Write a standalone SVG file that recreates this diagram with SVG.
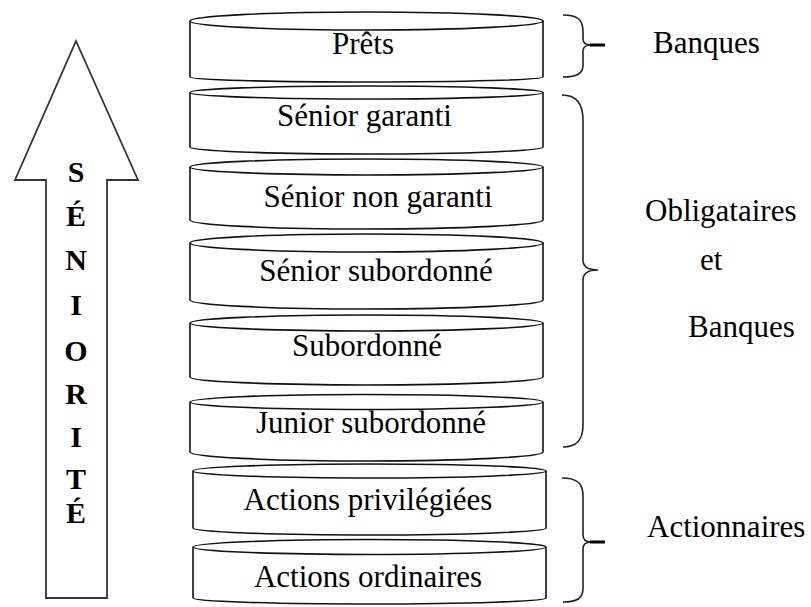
<svg xmlns="http://www.w3.org/2000/svg" width="811" height="607" viewBox="0 0 811 607">
<style>
.disk{fill:#fff;stroke:#111;stroke-width:1.6}
.lbl{font-family:"Liberation Serif","Times New Roman",serif;font-size:31px;fill:#000}
.c{text-anchor:middle}
.arrow{fill:#fff;stroke:#333;stroke-width:1.8}
.let{font-family:"Liberation Serif","Times New Roman",serif;font-size:30px;font-weight:bold;fill:#000;text-anchor:middle}
.brace{fill:none;stroke:#222;stroke-width:1.6}
.tip{stroke:#000;stroke-width:3}
</style>
<rect width="811" height="607" fill="#fff"/>
<g id="arrow">
<polygon class="arrow" points="76,41 138,180 107,180 107,598 46,598 46,180 15,180"/>
<text class="let" x="76" y="182">S</text>
<text class="let" x="76" y="226">É</text>
<text class="let" x="76" y="270">N</text>
<text class="let" x="76" y="315">I</text>
<text class="let" x="76" y="361">O</text>
<text class="let" x="76" y="404">R</text>
<text class="let" x="76" y="447">I</text>
<text class="let" x="76" y="489">T</text>
<text class="let" x="76" y="523">É</text>
</g>
<g id="disk-prets">
<path class="disk" d="M190,21 L190,77 A176.5,5 0 0 0 543,77 L543,21"/>
<ellipse class="disk" cx="366.5" cy="21" rx="176.5" ry="9"/>
<text class="lbl c" x="363" y="54">Prêts</text>
</g>
<g id="disk-senior-garanti">
<path class="disk" d="M190,92.5 L190,147 A176.5,7 0 0 0 543,147 L543,92.5"/>
<ellipse class="disk" cx="366.5" cy="92.5" rx="176.5" ry="6.5"/>
<text class="lbl c" x="364.5" y="126">Sénior garanti</text>
</g>
<g id="disk-senior-non-garanti">
<path class="disk" d="M190,167 L190,220 A176.5,9 0 0 0 543,220 L543,167"/>
<ellipse class="disk" cx="366.5" cy="167" rx="176.5" ry="8"/>
<text class="lbl c" x="378" y="207">Sénior non garanti</text>
</g>
<g id="disk-senior-subordonne">
<path class="disk" d="M190,243 L190,300 A176.5,9 0 0 0 543,300 L543,243"/>
<ellipse class="disk" cx="366.5" cy="243" rx="176.5" ry="9"/>
<text class="lbl c" x="376" y="281">Sénior subordonné</text>
</g>
<g id="disk-subordonne">
<path class="disk" d="M190,323 L190,377 A176.5,8 0 0 0 543,377 L543,323"/>
<ellipse class="disk" cx="366.5" cy="323" rx="176.5" ry="8"/>
<text class="lbl c" x="367" y="356">Subordonné</text>
</g>
<g id="disk-junior-subordonne">
<path class="disk" d="M190,402 L190,452 A176.5,9 0 0 0 543,452 L543,402"/>
<ellipse class="disk" cx="366.5" cy="402" rx="176.5" ry="7.5"/>
<text class="lbl c" x="371" y="433">Junior subordonné</text>
</g>
<g id="disk-actions-privilegiees">
<path class="disk" d="M193,471 L193,528 A176.5,7 0 0 0 546,528 L546,471"/>
<ellipse class="disk" cx="369.5" cy="471" rx="176.5" ry="7"/>
<text class="lbl c" x="368" y="510">Actions privilégiées</text>
</g>
<g id="disk-actions-ordinaires">
<path class="disk" d="M193,547 L193,598 A176.5,6 0 0 0 546,598 L546,547"/>
<ellipse class="disk" cx="369.5" cy="547" rx="176.5" ry="7.5"/>
<text class="lbl c" x="368" y="587">Actions ordinaires</text>
</g>
<g id="connectors">
<path class="brace" d="M563,15 C578,15 583,20 583,32 L583,39 Q583,45 591,45 Q583,45 583,51 L583,65 C583,73 578,77 563,77"/>
<line class="tip" x1="590" y1="45" x2="605" y2="45"/>
<path class="brace" d="M562,95 C577,95 583,105 583,120 L583,260 Q583,270 598,270 Q583,270 583,280 L583,425 C583,440 577,447 563,447"/>
<path class="brace" d="M562,478 C578,478 583,484 583,496 L583,535 Q583,542 591,542 Q583,542 583,549 L583,588 C583,598 578,602 563,602"/>
<line class="tip" x1="590" y1="542" x2="605" y2="542"/>
</g>
<g id="label-banques">
<text class="lbl" x="653" y="53">Banques</text>
</g>
<g id="label-obligataires">
<text class="lbl" x="645" y="221">Obligataires</text>
<text class="lbl" x="700" y="270">et</text>
<text class="lbl" x="688" y="337">Banques</text>
</g>
<g id="label-actionnaires">
<text class="lbl" x="647" y="537">Actionnaires</text>
</g>
</svg>
